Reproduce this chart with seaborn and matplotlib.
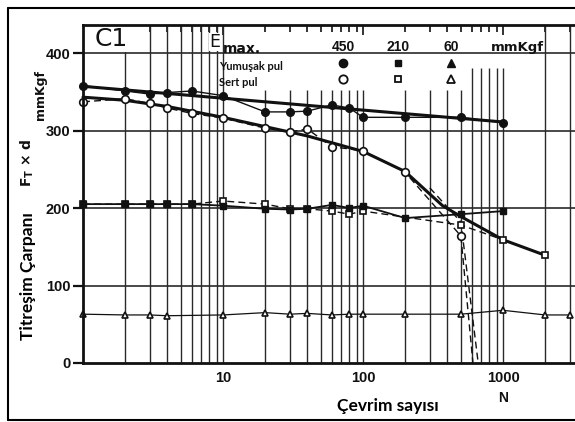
import matplotlib
matplotlib.use("Agg")
import matplotlib.pyplot as plt
import seaborn as sns
from matplotlib.lines import Line2D

sns.set_theme(style="white")
plt.rcParams['font.family'] = ['DejaVu Sans']

# --- measured series: number of cycles N and F_T x d [mmKgf] ---
n_soft450 = [1, 2, 3, 4, 6, 10, 20, 30, 40, 60, 80, 100, 200, 500, 1000]
soft450 = [358, 351, 347, 349, 351, 345, 324, 324, 325, 333, 329, 317, 317, 317, 310]

n_hard450 = [1, 2, 3, 4, 6, 10, 20, 30, 40, 60, 100, 200, 500]
hard450 = [337, 341, 335, 329, 322, 316, 303, 298, 302, 279, 274, 246, 164]

n_soft210 = [1, 2, 3, 4, 6, 10, 20, 30, 40, 60, 80, 100, 200, 500, 1000]
soft210 = [205, 205, 205, 205, 205, 203, 199, 198, 199, 204, 200, 203, 187, 192, 196]

n_hard210 = [1, 2, 3, 4, 6, 10, 20, 30, 40, 60, 80, 100, 500, 1000, 2000]
hard210 = [205, 205, 205, 205, 205, 209, 205, 199, 199, 196, 192, 196, 178, 159, 139]

n_hard60 = [1, 2, 3, 4, 10, 20, 30, 40, 60, 80, 100, 200, 500, 1000, 2000, 3000]
hard60 = [63, 62, 62, 61, 62, 65, 63, 64, 62, 63, 63, 63, 63, 68, 62, 62]

# fitted trend curves
n_trend_soft450 = [1, 1000]
trend_soft450 = [357, 311]
n_trend_hard450 = [1, 2, 4, 10, 20, 40, 100, 200, 370, 500, 1000, 2000]
trend_hard450 = [343, 339, 331, 317, 305, 293, 273, 247, 203, 189, 159, 139]

# collapse of the hard washer at 450 mmKgf
n_drop_a = [500, 610]
drop_a = [164, 0]
n_drop_b = [300, 500, 665]
drop_b = [226, 182, 0]

y_ticks = [0, 100, 200, 300, 400]
x_ticks = [10, 100, 1000]
x_tick_labels = ["10", "100", "1000"]
legend_levels = ["450", "210", "60"]

W, H = 575, 422
fig = plt.figure(figsize=(W / 100, H / 100), dpi=100)
fig.patch.set_facecolor("white")

# axes box in pixels: left 83, right 575, top 25, bottom 363
ax = fig.add_axes([83 / W, 1 - 363 / H, (575 - 83) / W, (363 - 25) / H])
ax.set_facecolor("white")
ax.set_xscale("log")
ax.set_xlim(1, 10 ** ((575 - 83) / 140))
ax.set_ylim(0, (363 - 25) / 0.775)

ink = "#111111"
grid_ink = "#2a2a2a"

# vertical log grid, drawn with the lengths of the printed chart
ax.vlines([2], 0, 404, color=grid_ink, lw=1.0, zorder=1)
ax.vlines([3, 4, 5, 6, 7, 8, 9, 10, 2000, 3000], 0, 436, color=grid_ink, lw=1.0, zorder=1)
ax.vlines([20, 30, 40, 50, 60, 70, 80, 90, 100, 200, 300, 400, 500], 0, 352,
          color=grid_ink, lw=1.0, zorder=1)
ax.vlines([600, 700, 800, 900, 1000], 0, 381, color=grid_ink, lw=1.0, zorder=1)
for yv in [100, 200, 300, 400]:
    ax.axhline(yv, color=grid_ink, lw=1.2, zorder=1)

# trend curves
sns.lineplot(x=n_trend_soft450, y=trend_soft450, ax=ax, color=ink, lw=2.2,
             estimator=None, sort=False, zorder=2)
sns.lineplot(x=n_trend_hard450, y=trend_hard450, ax=ax, color=ink, lw=2.2,
             estimator=None, sort=False, zorder=2)
sns.lineplot(x=n_drop_a, y=drop_a, ax=ax, color=ink, lw=1.0, linestyle=(0, (5, 3)),
             estimator=None, sort=False, zorder=2)
sns.lineplot(x=n_drop_b, y=drop_b, ax=ax, color=ink, lw=1.0, linestyle=(0, (5, 3)),
             estimator=None, sort=False, zorder=2)

# measured points
open_kw = dict(markerfacecolor="white", markeredgecolor=ink, markeredgewidth=1.2)
fill_kw = dict(markerfacecolor=ink, markeredgecolor=ink, markeredgewidth=1.0)

sns.lineplot(x=n_hard210, y=hard210, ax=ax, color=ink, lw=1.0, linestyle=(0, (5, 3)),
             marker="s", markersize=5, estimator=None, sort=False, zorder=3, **open_kw)
sns.lineplot(x=n_soft210, y=soft210, ax=ax, color=ink, lw=1.3,
             marker="s", markersize=5, estimator=None, sort=False, zorder=4, **fill_kw)
sns.lineplot(x=n_hard450, y=hard450, ax=ax, color=ink, lw=1.0, linestyle=(0, (5, 3)),
             marker="o", markersize=5.5, estimator=None, sort=False, zorder=3, **open_kw)
sns.lineplot(x=n_soft450, y=soft450, ax=ax, color=ink, lw=1.0,
             marker="o", markersize=5.5, estimator=None, sort=False, zorder=4, **fill_kw)
sns.lineplot(x=n_hard60, y=hard60, ax=ax, color=ink, lw=0.9,
             marker="^", markersize=5, estimator=None, sort=False, zorder=3, **open_kw)
for ln in ax.lines:
    ln.set_clip_on(False)

# axes styling
for side in ["left", "bottom", "top"]:
    ax.spines[side].set_visible(True)
    ax.spines[side].set_color(ink)
    ax.spines[side].set_linewidth(2.0)
    ax.spines[side].set_zorder(6)
ax.spines["right"].set_visible(False)

ax.set_yticks(y_ticks)
ax.set_yticklabels([str(v) for v in y_ticks])
ax.set_xticks(x_ticks)
ax.set_xticklabels(x_tick_labels)
ax.tick_params(axis="y", which="major", left=True, direction="out", length=7, width=1.6,
               color=ink, pad=2)
ax.tick_params(axis="x", which="both", bottom=False, top=True, direction="in",
               length=7, width=1.2, color=ink, pad=6)
ax.tick_params(axis="x", which="minor", length=5)
for lab in ax.get_yticklabels() + ax.get_xticklabels():
    lab.set_fontfamily("Liberation Sans")
    lab.set_fontweight("bold")
    lab.set_fontsize(10.5)
    lab.set_color(ink)
ax.set_xlabel("")
ax.set_ylabel("")


def fx(px):
    return px / W


def fy(py):
    return 1 - py / H


# header block (written inside the axes so the grid stops behind it)
ax.text(fx(95), fy(39), "C1", fontsize=18, color=ink, ha="left", va="center",
        transform=fig.transFigure, zorder=5,
        bbox=dict(facecolor="white", edgecolor="none", pad=0.5))
ax.text(fx(209), fy(42), "E", fontsize=12.5, color=ink, ha="left", va="center",
        transform=fig.transFigure, zorder=5,
        bbox=dict(facecolor="white", edgecolor="none", pad=0.3))
fig.text(fx(223), fy(49), "max.", fontsize=10, fontweight="bold", color=ink,
         ha="left", va="center")
for lvl, px in zip(legend_levels, [343, 398, 451]):
    fig.text(fx(px), fy(47), lvl, fontsize=10, fontweight="bold", color=ink,
             family="Liberation Sans", ha="center", va="center")
fig.text(fx(517), fy(47), "mmKgf", fontsize=9.5, fontweight="bold", color=ink,
         ha="center", va="center")
fig.text(fx(219), fy(67), "Yumuşak pul", fontsize=8, fontweight="bold", color=ink,
         family="Lato", ha="left", va="center")
fig.text(fx(219), fy(82), "Sert pul", fontsize=8, fontweight="bold", color=ink,
         family="Lato", ha="left", va="center")
for mk, px in zip(["o", "s", "^"], [343, 398, 451]):
    fig.add_artist(Line2D([fx(px)], [fy(63)], marker=mk, markersize=6 if mk != "s" else 5,
                          color=ink, markerfacecolor=ink, markeredgecolor=ink,
                          transform=fig.transFigure))
    fig.add_artist(Line2D([fx(px)], [fy(79)], marker=mk, markersize=6 if mk != "s" else 5,
                          color=ink, markerfacecolor="white", markeredgecolor=ink,
                          markeredgewidth=1.3, transform=fig.transFigure))

# axis titles
fig.text(fx(27), fy(163), r"$\mathbf{F_T}$ × d", fontsize=10, fontweight="bold",
         color=ink, rotation=90, ha="center", va="center")
fig.text(fx(41), fy(95), "mmKgf", fontsize=9, fontweight="bold", color=ink,
         rotation=90, ha="center", va="center")
fig.text(fx(28), fy(276), "Titreşim Çarpanı", fontsize=12.5, fontweight="bold",
         color="black", family="Lato", rotation=90, ha="center", va="center")
fig.text(fx(388), fy(406), "Çevrim sayısı", fontsize=12.5, fontweight="bold",
         color="black", family="Lato", ha="center", va="center")
fig.text(fx(503), fy(398), "N", fontsize=10, fontweight="bold", color=ink,
         family="Liberation Sans", ha="center", va="center")

# outer frame
frame_kw = dict(color="black", lw=1.5, transform=fig.transFigure)
fig.add_artist(Line2D([fx(8), fx(8)], [fy(8), fy(420)], **frame_kw))
fig.add_artist(Line2D([fx(8), fx(575)], [fy(8), fy(8)], **frame_kw))
fig.add_artist(Line2D([fx(8), fx(575)], [fy(420), fy(420)], **frame_kw))

fig.savefig("out.png", dpi=100)
